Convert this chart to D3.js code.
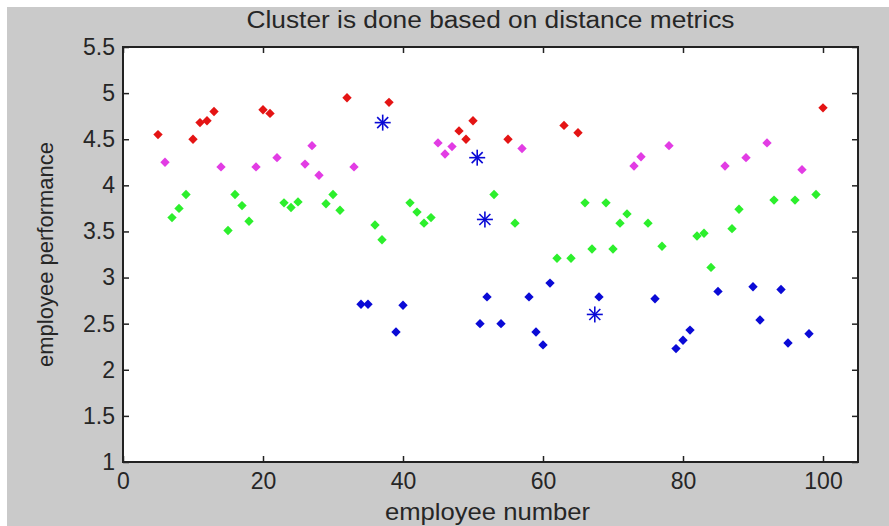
<!DOCTYPE html>
<html>
<head>
<meta charset="utf-8">
<script src="https://cdn.jsdelivr.net/npm/d3@7"></script>
<style>
  body { margin: 0; background: #fff; }
  text { font-family: "Liberation Sans", Arial, sans-serif; fill: #262626; }
</style>
</head>
<body>
<script>
// cluster members: [employee number, employee performance]
const redCluster = [[5,4.55],[10,4.5],[11,4.68],[12,4.7],[13,4.8],[20,4.82],[21,4.78],[32,4.95],
  [38,4.9],[48,4.59],[49,4.5],[50,4.7],[55,4.5],[63,4.65],[65,4.57],[100,4.84]]
const magentaCluster = [[6,4.25],[14,4.2],[19,4.2],[22,4.3],[26,4.23],[27,4.43],[28,4.11],[33,4.2],
  [45,4.46],[46,4.34],[47,4.42],[57,4.4],[73,4.21],[74,4.31],[78,4.43],[86,4.21],[89,4.3],[92,4.46],[97,4.17]]
const greenCluster = [[7,3.65],[8,3.75],[9,3.9],[15,3.51],[16,3.9],[17,3.78],[18,3.61],[23,3.81],
  [24,3.76],[25,3.82],[29,3.8],[30,3.9],[31,3.73],[36,3.57],[37,3.41],[41,3.81],[42,3.71],[43,3.59],
  [44,3.65],[53,3.9],[56,3.59],[62,3.21],[64,3.21],[66,3.81],[67,3.31],[69,3.81],[70,3.31],[71,3.59],
  [72,3.69],[75,3.59],[77,3.34],[82,3.45],[83,3.48],[84,3.11],[87,3.53],[88,3.74],[93,3.84],[96,3.84],[99,3.9]]
const blueCluster = [[34,2.71],[35,2.71],[39,2.41],[40,2.7],[51,2.5],[52,2.79],[54,2.5],[58,2.79],
  [59,2.41],[60,2.27],[61,2.94],[68,2.79],[76,2.77],[79,2.23],[80,2.32],[81,2.43],[85,2.85],[90,2.9],
  [91,2.54],[94,2.87],[95,2.29],[98,2.39]]
// cluster centres (drawn as stars)
const centroids = [[37.1,4.68],[50.6,4.3],[51.7,3.63],[67.4,2.6]]

const xTicks = [0, 20, 40, 60, 80, 100]
const yTicks = [1, 1.5, 2, 2.5, 3, 3.5, 4, 4.5, 5, 5.5]

const W = 889, H = 526
const plot = {left: 123, right: 858, top: 47, bottom: 462}

const svg = d3.select('body').append('svg')
    .attr('width', W)
    .attr('height', H)

// grey figure background (small white strip on top/left like the screenshot)
svg.append('rect')
    .attr('x', 7).attr('y', 7)
    .attr('width', W - 7).attr('height', H - 7)
    .attr('fill', '#cacaca')

svg.append('rect')
    .attr('x', plot.left).attr('y', plot.top)
    .attr('width', plot.right - plot.left)
    .attr('height', plot.bottom - plot.top)
    .attr('fill', '#fff')

const x = d3.scaleLinear().domain([0, 105]).range([plot.left, plot.right])
const y = d3.scaleLinear().domain([1, 5.5]).range([plot.bottom, plot.top])

// axes, ticks pointing inwards like matlab
function styleAxis(g) {
    g.select('.domain').remove()
    g.selectAll('.tick line').attr('stroke', '#222').attr('stroke-width', 1.5)
    g.selectAll('.tick text').style('font-size', '23px').attr('fill', '#262626')
}

svg.append('g')
    .attr('transform', 'translate(0,' + plot.bottom + ')')
    .call(d3.axisBottom(x).tickValues(xTicks).tickSize(-6).tickPadding(11))
    .call(styleAxis)

svg.append('g')
    .attr('transform', 'translate(0,' + plot.top + ')')
    .call(d3.axisTop(x).tickValues(xTicks).tickSize(-6).tickFormat(''))
    .call(styleAxis)

svg.append('g')
    .attr('transform', 'translate(' + plot.left + ',0)')
    .call(d3.axisLeft(y).tickValues(yTicks).tickSize(-6).tickPadding(8).tickFormat(d3.format('')))
    .call(styleAxis)

svg.append('g')
    .attr('transform', 'translate(' + plot.right + ',0)')
    .call(d3.axisRight(y).tickValues(yTicks).tickSize(-6).tickFormat(''))
    .call(styleAxis)

// box
svg.append('rect')
    .attr('x', plot.left).attr('y', plot.top)
    .attr('width', plot.right - plot.left)
    .attr('height', plot.bottom - plot.top)
    .attr('fill', 'none')
    .attr('stroke', '#222')
    .attr('stroke-width', 2)

// diamonds for each cluster
const diamond = d3.symbol(d3.symbolSquare, 44)
const groups = [
    {data: redCluster, color: '#e41414'},
    {data: magentaCluster, color: '#e23ce4'},
    {data: greenCluster, color: '#2cef2c'},
    {data: blueCluster, color: '#0a0ad6'}
]

groups.forEach(grp => {
    svg.append('g').selectAll('path')
        .data(grp.data)
        .enter()
        .append('path')
            .attr('d', diamond)
            .attr('transform', d => 'translate(' + x(d[0]) + ',' + y(d[1]) + ') rotate(45)')
            .attr('fill', grp.color)
})

// centroid stars: + and x overlaid
const star = svg.append('g').selectAll('g')
    .data(centroids)
    .enter()
    .append('g')
    .attr('transform', d => 'translate(' + x(d[0]) + ',' + y(d[1]) + ')')
    .attr('stroke', '#0a0ad6')
    .attr('stroke-width', 1.6)

const arms = [[-8, 0, 8, 0], [0, -8, 0, 8], [-5.5, -5.5, 5.5, 5.5], [-5.5, 5.5, 5.5, -5.5]]
arms.forEach(a => {
    star.append('line')
        .attr('x1', a[0]).attr('y1', a[1])
        .attr('x2', a[2]).attr('y2', a[3])
})

// title and labels
const midX = (plot.left + plot.right) / 2
svg.append('text')
    .attr('x', midX)
    .attr('y', 28)
    .attr('text-anchor', 'middle')
    .attr('textLength', 488)
    .attr('lengthAdjust', 'spacingAndGlyphs')
    .style('font-size', '23px')
    .text('Cluster is done based on distance metrics')

svg.append('text')
    .attr('x', midX - 3)
    .attr('y', 520)
    .attr('text-anchor', 'middle')
    .attr('textLength', 205)
    .attr('lengthAdjust', 'spacingAndGlyphs')
    .style('font-size', '24px')
    .text('employee number')

svg.append('text')
    .attr('transform', 'translate(53,' + ((plot.top + plot.bottom) / 2) + ') rotate(-90)')
    .attr('text-anchor', 'middle')
    .style('font-size', '22px')
    .text('employee performance')
</script>
</body>
</html>
